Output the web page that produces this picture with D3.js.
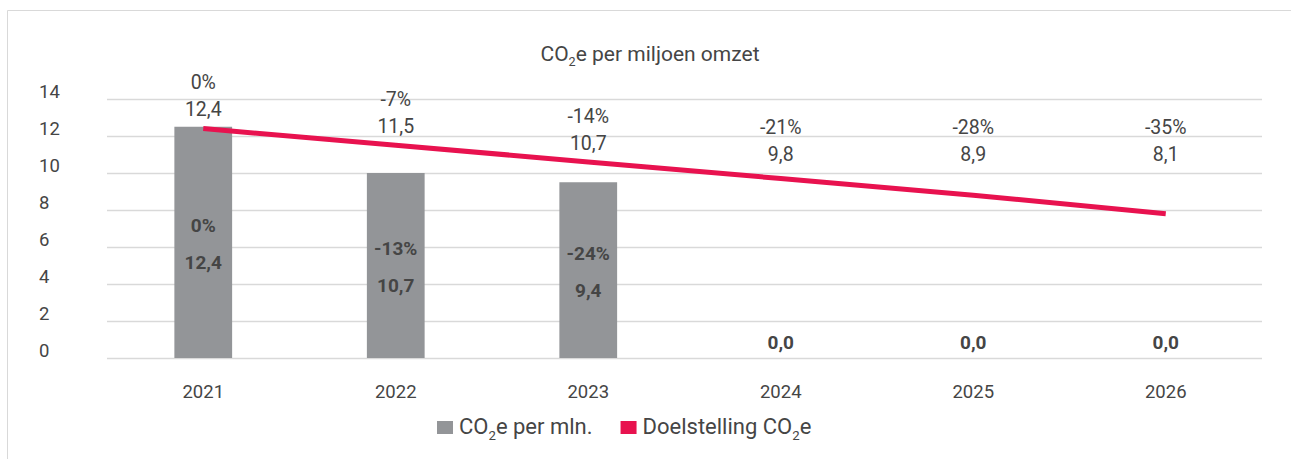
<!DOCTYPE html>
<html>
<head>
<meta charset="utf-8">
<script src="https://cdn.jsdelivr.net/npm/d3@7"></script>
<style>
  html, body { margin: 0; padding: 0; background: #fff; }
  svg { display: block; }
</style>
</head>
<body>
<div id="container"></div>
<script>
const width = 1291, height = 459;
const margin = ({top: 99, right: 29, bottom: 101, left: 107});

// data
const years = ["2021", "2022", "2023", "2024", "2025", "2026"];
const barValues = [12.5, 10.0, 9.5, 0, 0, 0];            // CO2e per mln. (bar heights)
const barLabels = ["12,4", "10,7", "9,4", "0,0", "0,0", "0,0"];
const barPct = ["0%", "-13%", "-24%", "", "", ""];
const targetValues = [12.4, 11.5, 10.6, 9.7, 8.8, 7.8];   // Doelstelling CO2e (line)
const targetLabels = ["12,4", "11,5", "10,7", "9,8", "8,9", "8,1"];
const targetPct = ["0%", "-7%", "-14%", "-21%", "-28%", "-35%"];
const yTicks = [0, 2, 4, 6, 8, 10, 12, 14];

const barColor = "#939598",
    lineColor = "#e8124f",
    textColor = "#454545",
    gridColor = "#d9d9d9";
const font = "Roboto, 'DejaVu Sans', sans-serif";

let svg = d3.select("#container").append("svg")
    .attr("width", width)
    .attr("height", height)
    .attr("font-family", font);

// outer frame (left + top only visible)
svg.append("path")
    .attr("d", `M7.5,${height} V10.5 H${width}`)
    .attr("fill", "none")
    .attr("stroke", gridColor)
    .attr("stroke-width", 1);

const x = d3.scaleBand()
    .domain(years)
    .range([margin.left, width - margin.right])
    .padding(0);
const y = d3.scaleLinear()
    .domain([0, 14])
    .range([height - margin.bottom, margin.top]);
const barW = x.bandwidth() * 0.3;
const cx = d => x(d) + x.bandwidth() / 2;

// grid + y tick labels
svg.append("g")
    .attr("transform", `translate(${margin.left},0)`)
    .call(d3.axisLeft(y).tickValues(yTicks).tickSize(-(width - margin.left - margin.right)).tickPadding(0))
    .call(g => g.select(".domain").remove())
    .call(g => g.selectAll(".tick line").attr("stroke", gridColor).attr("stroke-width", 1.3))
    .call(g => g.selectAll(".tick text")
        .attr("x", 39 - margin.left)
        .attr("dy", "-0.1em")
        .attr("text-anchor", "start")
        .attr("fill", textColor)
        .attr("font-size", 18.5)
        .attr("font-family", font));

// x axis labels
svg.append("g")
    .attr("transform", `translate(0,${height - margin.bottom})`)
    .call(d3.axisBottom(x).tickSize(0).tickPadding(27))
    .call(g => g.select(".domain").remove())
    .call(g => g.selectAll(".tick text")
        .attr("fill", textColor)
        .attr("font-size", 18.5)
        .attr("font-family", font));

// bars
svg.append("g").selectAll("rect")
    .data(years)
    .join("rect")
    .attr("x", (d) => cx(d) - barW / 2)
    .attr("width", barW)
    .attr("y", (d, i) => y(barValues[i]))
    .attr("height", (d, i) => y(0) - y(barValues[i]))
    .attr("fill", barColor);

// bar labels (bold, inside)
const barLab = svg.append("g")
    .attr("font-weight", "bold")
    .attr("font-size", 19)
    .attr("fill", textColor)
    .attr("text-anchor", "middle");
years.forEach((d, i) => {
    let mid;
    if (barValues[i] > 0) {
        mid = (y(barValues[i]) + y(0)) / 2 + 1.5;
        barLab.append("text").attr("x", cx(d)).attr("y", mid - 18.5).attr("dy", "0.35em").text(barPct[i]);
        barLab.append("text").attr("x", cx(d)).attr("y", mid + 18.5).attr("dy", "0.35em").text(barLabels[i]);
    } else {
        barLab.append("text").attr("x", cx(d)).attr("y", y(0) - 16).attr("dy", "0.35em").text(barLabels[i]);
    }
});

// target line
const line = d3.line()
    .x((d, i) => cx(years[i]))
    .y(d => y(d));
svg.append("path")
    .datum(targetValues)
    .attr("fill", "none")
    .attr("stroke", lineColor)
    .attr("stroke-width", 5)
    .attr("d", line);

// target labels (above line, kept under a ceiling)
const lineLab = svg.append("g")
    .attr("font-size", 19.5)
    .attr("fill", textColor)
    .attr("text-anchor", "middle");
targetValues.forEach((v, i) => {
    const vy = Math.min(y(v) - 19, y(11));
    lineLab.append("text").attr("x", cx(years[i])).attr("y", vy).attr("dy", "0.35em").text(targetLabels[i]);
    lineLab.append("text").attr("x", cx(years[i])).attr("y", vy - 27).attr("dy", "0.35em").text(targetPct[i]);
});

// CO2 text helper
function co2(sel, before, after, size) {
    sel.append("tspan").text(before + "CO");
    sel.append("tspan").text("2").attr("font-size", size * 0.6).attr("dy", size * 0.25);
    sel.append("tspan").text(after).attr("dy", -size * 0.25);
}

// title
const title = svg.append("text")
    .attr("x", 650)
    .attr("y", 61)
    .attr("text-anchor", "middle")
    .attr("font-size", 21)
    .attr("fill", textColor);
co2(title, "", "e per miljoen omzet", 21);

// legend
const legend = [
    {key: "bar", color: barColor, after: "e per mln.", before: ""},
    {key: "line", color: lineColor, after: "e", before: "Doelstelling "}
];
const lg = svg.append("g");
let lx = 437;
legend.forEach(item => {
    lg.append("rect")
        .attr("x", lx).attr("y", 421)
        .attr("width", 16).attr("height", 13)
        .attr("fill", item.color);
    const t = lg.append("text")
        .attr("x", lx + 22)
        .attr("y", 434)
        .attr("font-size", 22)
        .attr("fill", textColor);
    co2(t, item.before, item.after, 22);
    lx += 22 + t.node().getComputedTextLength() + 28;
});
</script>
</body>
</html>
